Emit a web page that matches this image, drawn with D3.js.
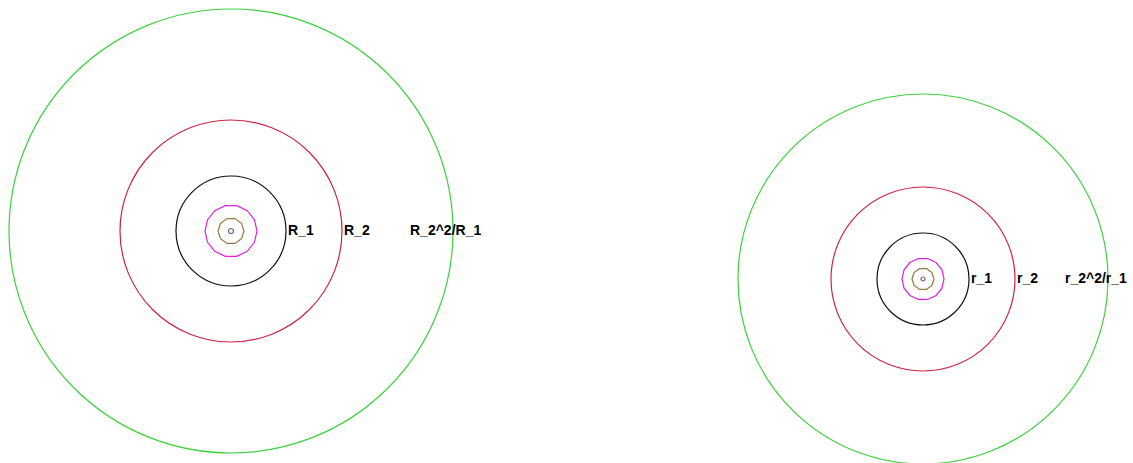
<!DOCTYPE html>
<html>
<head>
<meta charset="utf-8">
<script src="https://cdn.jsdelivr.net/npm/d3@7"></script>
<style>
  body { margin: 0; background: #fff; }
</style>
</head>
<body>
<div id="my_dataviz"></div>
<script>
// circle names, radii (pixels) and colours
const ringNames   = ["outer", "R2", "R1", "inner1", "inner2", "dot"];
const leftRadii   = [222, 111, 55, 26, 13, 2.5];
const rightRadii  = [185, 92, 46, 21, 11, 2];
const ringColors  = ["#3fcf3f", "#cc2244", "#111111", "#dd22dd", "#8c7a40", "#7a5a7a"];
const ringSides   = [0, 0, 0, 14, 10, 0];   // small ones look faceted

const leftLabels  = ["R_2^2/R_1", "R_2", "R_1"];
const rightLabels = ["r_2^2/r_1", "r_2", "r_1"];

const leftCenter  = [231, 231];
const rightCenter = [923, 279];

const width = 1133, height = 463;

const svg = d3.select("#my_dataviz")
  .append("svg")
    .attr("width", width)
    .attr("height", height);

// radius scale, one pixel per unit
const r = d3.scaleLinear().domain([0, 1]).range([0, 1]);

function drawSystem(center, radii, labels) {
  const g = svg.append("g")
    .attr("transform", `translate(${center[0]}, ${center[1]})`);

  const rings = radii.map((v, i) => ({name: ringNames[i], r: v, color: ringColors[i], sides: ringSides[i]}));

  // smooth rings
  g.selectAll("circle")
    .data(rings.filter(d => d.sides === 0))
    .join("circle")
      .attr("r", d => r(d.r))
      .attr("fill", "none")
      .attr("stroke", d => d.color)
      .attr("stroke-width", 1.2);

  // faceted small rings
  const radial = d3.lineRadial().curve(d3.curveLinearClosed);
  g.selectAll("path.facet")
    .data(rings.filter(d => d.sides > 0))
    .join("path")
      .attr("class", "facet")
      .attr("d", d => radial(d3.range(d.sides).map(k => [k * 2 * Math.PI / d.sides + Math.PI / d.sides, r(d.r)])))
      .attr("fill", "none")
      .attr("stroke", d => d.color)
      .attr("stroke-width", 1.2);

  // labels: next to R1 and R2, and inside the outer ring for the third
  const labelData = labels.map((t, i) => ({text: t, r: radii[i]}));
  g.selectAll("text")
    .data(labelData)
    .join("text")
      .attr("x", (d, i) => i === 0 ? r(d.r) - 43 : r(d.r) + 2)
      .attr("y", 4)
      .style("font-family", "Liberation Sans, Arial, sans-serif")
      .style("font-size", "14px")
      .style("font-weight", "bold")
      .style("fill", "#000")
      .text(d => d.text);
}

drawSystem(leftCenter, leftRadii, leftLabels);
drawSystem(rightCenter, rightRadii, rightLabels);
</script>
</body>
</html>
